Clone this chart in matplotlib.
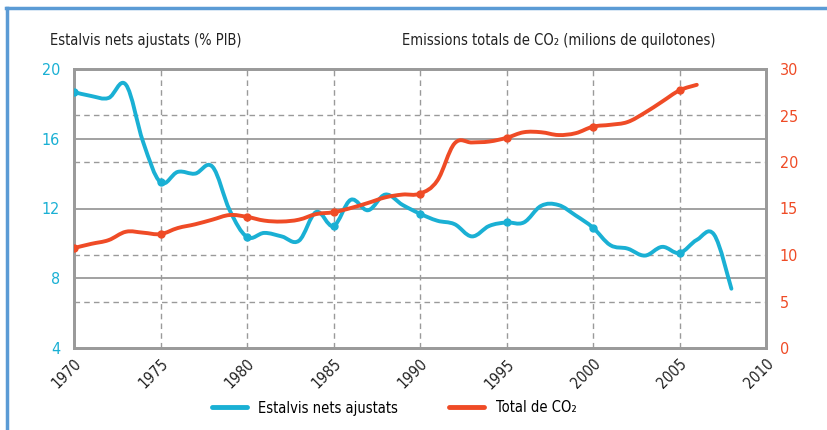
import matplotlib
matplotlib.use('Agg')
import matplotlib.pyplot as plt
from matplotlib.lines import Line2D
from matplotlib.path import Path
from matplotlib.patches import PathPatch

plt.rcParams['font.family'] = ['DejaVu Sans']
plt.rcParams['font.stretch'] = 'condensed'

years = list(range(1970, 2009))
estalvis = [18.68, 18.45, 18.34, 19.1, 15.8, 13.5, 14.1, 14.0, 14.4, 11.9,
            10.37, 10.6, 10.4, 10.15, 11.8, 11.0, 12.5, 11.9, 12.8, 12.2,
            11.7, 11.3, 11.1, 10.4, 11.0, 11.2, 11.2, 12.15, 12.2, 11.6,
            10.9, 9.9, 9.7, 9.3, 9.8, 9.45, 10.2, 10.5, 7.4]
years_co2 = list(range(1970, 2007))
co2 = [10.75, 11.2, 11.6, 12.5, 12.4, 12.25, 12.9, 13.3, 13.8, 14.3,
       14.1, 13.7, 13.6, 13.8, 14.4, 14.6, 15.05, 15.6, 16.2, 16.5,
       16.6, 18.0, 22.0, 22.1, 22.2, 22.6, 23.2, 23.2, 22.9, 23.1,
       23.8, 24.0, 24.3, 25.3, 26.5, 27.7, 28.3]

left_ticks = [4, 8, 12, 16, 20]
right_ticks = [0, 5, 10, 15, 20, 25, 30]
x_ticks = list(range(1970, 2011, 5))

blue = '#1ab0d4'
red = '#ef4b26'
grey = '#9a9a9a'


def smooth_path(xs, ys, t=0.18):
    # catmull-rom style bezier through the points
    verts = [(xs[0], ys[0])]
    codes = [Path.MOVETO]
    n = len(xs)
    for i in range(n - 1):
        x0, y0 = xs[max(i - 1, 0)], ys[max(i - 1, 0)]
        x1, y1 = xs[i], ys[i]
        x2, y2 = xs[i + 1], ys[i + 1]
        x3, y3 = xs[min(i + 2, n - 1)], ys[min(i + 2, n - 1)]
        c1 = (x1 + (x2 - x0) * t, y1 + (y2 - y0) * t)
        c2 = (x2 - (x3 - x1) * t, y2 - (y3 - y1) * t)
        verts += [c1, c2, (x2, y2)]
        codes += [Path.CURVE4] * 3
    return Path(verts, codes)


fig = plt.figure(figsize=(8.28, 4.30), dpi=100)
ax = fig.add_axes([74/828, 1-348/430, (766-74)/828, (348-69)/430])
ax2 = ax.twinx()

ax.set_xlim(1970, 2010)
ax.set_ylim(4, 20)
ax2.set_ylim(0, 30)

# grid: solid on left ticks, dashed on right ticks, dashed vertical
for v in left_ticks[1:-1]:
    ax.axhline(v, color=grey, lw=1.3, zorder=0)
for v in right_ticks[1:-1]:
    if v != 15:
        ax2.axhline(v, color=grey, lw=1.0, ls=(0, (4, 3)), zorder=0)
for v in x_ticks[1:-1]:
    ax.axvline(v, color=grey, lw=1.0, ls=(0, (4, 3)), zorder=0)

ax2.add_patch(PathPatch(smooth_path(years, estalvis), fill=False, ec=blue,
                        lw=2.8, capstyle='round', joinstyle='round',
                        transform=ax.transData, zorder=3))
ax2.plot([y for y in years if y % 5 == 0],
         [v for y, v in zip(years, estalvis) if y % 5 == 0],
         'o', color=blue, ms=5, transform=ax.transData, zorder=3)

ax2.add_patch(PathPatch(smooth_path(years_co2, co2), fill=False, ec=red,
                        lw=2.8, capstyle='round', joinstyle='round', zorder=4))
ax2.plot([y for y in years_co2 if y % 5 == 0],
         [v for y, v in zip(years_co2, co2) if y % 5 == 0],
         'o', color=red, ms=5, zorder=4)

for a in (ax, ax2):
    for s in a.spines.values():
        s.set_color(grey)
        s.set_linewidth(2)

ax.set_yticks(left_ticks)
ax.tick_params(axis='y', length=0, pad=10, labelsize=11.5, labelcolor=blue)
ax2.set_yticks(right_ticks)
ax2.tick_params(axis='y', length=0, pad=10, labelsize=11.5, labelcolor=red)
ax.set_xticks(x_ticks)
ax.set_xticklabels([str(x) for x in x_ticks], rotation=45, ha='right',
                   rotation_mode='anchor', fontsize=11, color='#222222')
ax.tick_params(axis='x', length=0, pad=6)

fig.text(50/828, 1-40/430, 'Estalvis nets ajustats (% PIB)', fontsize=10.5,
         color='#222222', va='center')
fig.text(402/828, 1-40/430, 'Emissions totals de CO₂ (milions de quilotones)',
         fontsize=10.5, color='#222222', va='center')

handles = [Line2D([], [], color=blue, lw=3.5, solid_capstyle='round'),
           Line2D([], [], color=red, lw=3.5, solid_capstyle='round')]
fig.legend(handles, ['Estalvis nets ajustats', 'Total de CO₂'], loc='center',
           bbox_to_anchor=(394/828, 1-408/430), ncol=2, frameon=False,
           fontsize=10.5, handlelength=2.4, columnspacing=3.5)

border = '#5b9bd5'
fig.add_artist(Line2D([7/828, 7/828], [0, 1-8/430], color=border, lw=2.5))
fig.add_artist(Line2D([6/828, 1], [1-8/430, 1-8/430], color=border, lw=2.5))

fig.savefig('out.png', dpi=100)
